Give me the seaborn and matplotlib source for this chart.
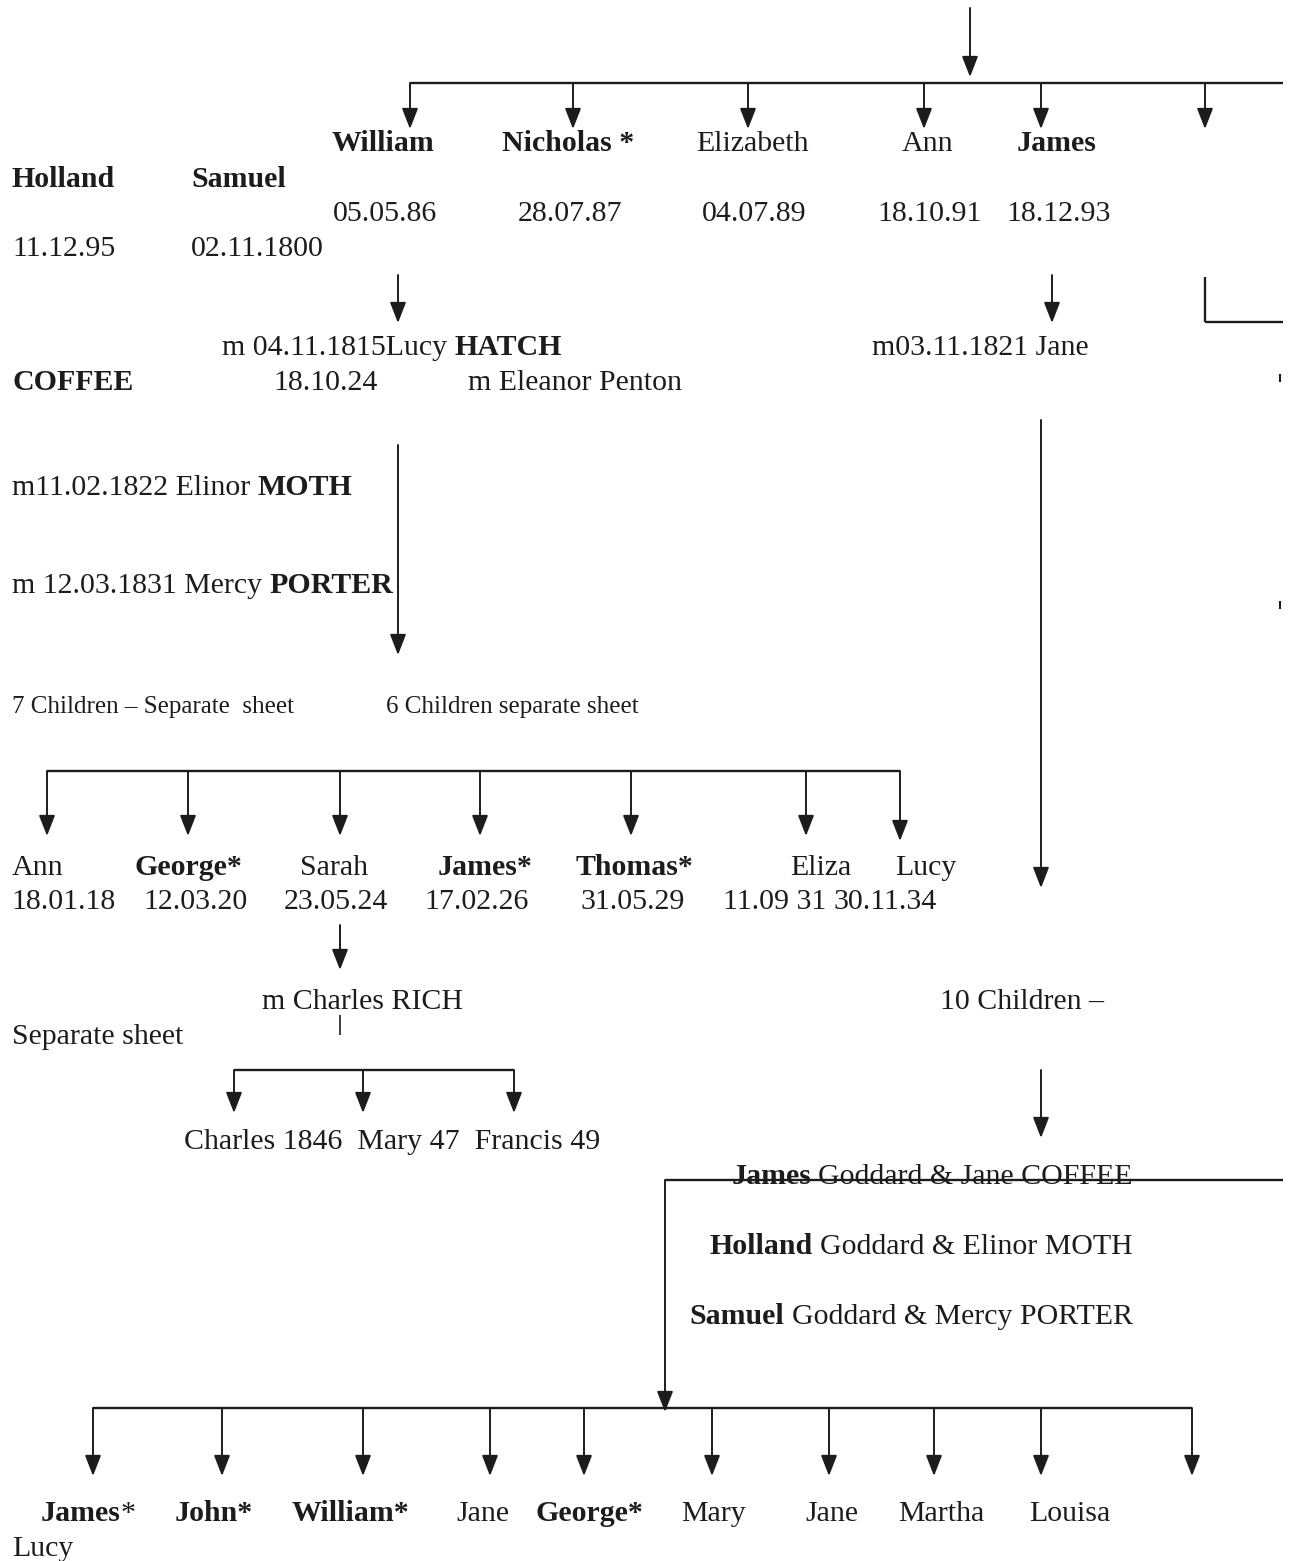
import matplotlib
matplotlib.use("Agg")
import matplotlib.pyplot as plt
import seaborn as sns

sns.set_theme(style="white")
plt.rcParams['font.family'] = ['Liberation Serif', 'DejaVu Serif']

W, H = 1290, 1561
INK = "#1c1c1c"
FS = 21.5      # main text size
FS_SMALL = 18  # "children on separate sheet" notes

# ---- family data ----
gen1_names = ["William", "Nicholas *", "Elizabeth", "Ann", "James"]
gen1_dates = ["05.05.86", "28.07.87", "04.07.89", "18.10.91", "18.12.93"]
gen1_bold = [True, True, False, False, True]
gen1_late_names = ["Holland", "Samuel"]
gen1_late_dates = ["11.12.95", "02.11.1800"]

hatch_children = ["Ann", "George*", "Sarah", "James*", "Thomas*", "Eliza", "Lucy"]
hatch_dates = ["18.01.18", "12.03.20", "23.05.24", "17.02.26", "31.05.29", "11.09 31", "30.11.34"]
hatch_bold = [False, True, False, True, True, False, False]

rich_children = ["Charles 1846", "Mary 47", "Francis 49"]

coffee_children = ["James", "John", "William", "Jane", "George", "Mary", "Jane", "Martha", "Louisa"]
coffee_star = [True, True, True, False, True, False, False, False, False]
coffee_last = "Lucy"

couples = [("James", "Goddard & Jane COFFEE"),
           ("Holland", "Goddard & Elinor MOTH"),
           ("Samuel", "Goddard & Mercy PORTER")]

# ---- layout (pixels) ----
gen1_x = [383, 568, 752, 928, 1057]
gen1_arrow_x = [410, 573, 748, 924, 1041, 1205]
hatch_x = [12, 188, 334, 485, 635, 821, 926]
hatch_date_x = [63, 196, 336, 477, 633, 775, 885]
hatch_arrow_x = [47, 188, 340, 480, 631, 806, 900]
rich_arrow_x = [234, 363, 514]
coffee_x = [88, 214, 351, 483, 589, 713, 832, 941, 1070]
coffee_arrow_x = [93, 222, 363, 490, 584, 712, 829, 934, 1041, 1192]

fig = plt.figure(figsize=(W / 100, H / 100), dpi=100)
ax = fig.add_axes([0, 0, 1, 1])
ax.set_xlim(0, W)
ax.set_ylim(H, 0)
ax.axis("off")
renderer = fig.canvas.get_renderer()


def hline(y, x0, x1, lw=1.7):
    ax.plot([x0, x1], [y, y], color=INK, lw=lw, solid_capstyle="butt")


def vline(x, y0, y1, lw=1.4):
    ax.plot([x, x], [y0, y1], color=INK, lw=lw, solid_capstyle="butt")


def arrow(x, y0, y1):
    ax.annotate("", xy=(x, y1), xytext=(x, y0),
                arrowprops=dict(arrowstyle="-|>,head_length=0.9,head_width=0.35",
                                lw=1.4, color=INK, shrinkA=0, shrinkB=0,
                                mutation_scale=14))


def rich(x, y, parts, ha="left", size=FS):
    sp = size * 100 / 72 * 0.25
    pieces, widths, lead = [], [], []
    for s, bold in parts:
        t = ax.text(0, y, s.strip(), fontsize=size, color=INK, va="baseline",
                    fontweight="bold" if bold else "normal")
        w = t.get_window_extent(renderer).width
        pre = sp if s.startswith(" ") else 0
        post = sp if s.endswith(" ") else 0
        pieces.append(t)
        lead.append(pre)
        widths.append(pre + w + post)
    total = sum(widths)
    start = {"left": x, "center": x - total / 2, "right": x - total}[ha]
    for t, w, p in zip(pieces, widths, lead):
        t.set_x(start + p)
        start += w


def label(x, y, s, bold=False, ha="center", size=FS):
    ax.text(x, y, s, fontsize=size, color=INK, va="baseline", ha=ha,
            fontweight="bold" if bold else "normal")


# ---- generation 1 ----
arrow(970, 8, 77)
hline(83, 410, 1283)
for x in gen1_arrow_x:
    arrow(x, 83, 129)
for x, n, b in zip(gen1_x, gen1_names, gen1_bold):
    label(x, 151, n, bold=b)
for x, d in zip(gen1_x, gen1_dates):
    label(x + 2, 221, d)
label(12, 187, gen1_late_names[0], bold=True, ha="left")
label(191, 187, gen1_late_names[1], bold=True, ha="left")
label(12, 256, gen1_late_dates[0], ha="left")
label(191, 256, gen1_late_dates[1], ha="left")

arrow(398, 275, 323)
arrow(1052, 275, 323)
vline(1205, 277, 322, lw=1.7)
hline(322, 1205, 1283)
vline(1280, 374, 382, lw=1.5)
vline(1280, 601, 609, lw=1.5)

rich(222, 355, [("m 04.11.1815Lucy ", False), ("HATCH", True)])
label(872, 355, "m03.11.1821 Jane", ha="left")
label(12, 390, "COFFEE", bold=True, ha="left")
label(273, 390, "18.10.24", ha="left")
label(468, 390, "m Eleanor Penton", ha="left")

rich(12, 495, [("m11.02.1822 Elinor ", False), ("MOTH", True)])
rich(12, 593, [("m 12.03.1831 Mercy ", False), ("PORTER", True)])
arrow(398, 445, 655)
arrow(1041, 420, 888)

label(12, 713, "7 Children \u2013 Separate  sheet", ha="left", size=FS_SMALL)
label(386, 713, "6 Children separate sheet", ha="left", size=FS_SMALL)

# ---- children of Holland & Lucy HATCH ----
hline(771, 47, 900)
for x in hatch_arrow_x:
    arrow(x, 771, 841 if x == hatch_arrow_x[-1] else 836)
for i, (x, n, b) in enumerate(zip(hatch_x, hatch_children, hatch_bold)):
    label(x, 875, n, bold=b, ha="left" if i == 0 else "center")
for x, d in zip(hatch_date_x, hatch_dates):
    label(x, 909, d)

arrow(340, 925, 970)
label(262, 1009, "m Charles RICH", ha="left")
label(940, 1009, "10 Children \u2013", ha="left")
label(12, 1044, "Separate sheet", ha="left")
vline(340, 1015, 1035, lw=1.2)

hline(1070, 234, 514)
for x in rich_arrow_x:
    arrow(x, 1070, 1113)
label(184, 1149, "  ".join(rich_children), ha="left")

# ---- James Goddard & Jane COFFEE ----
arrow(1041, 1070, 1138)
for i, (first, rest) in enumerate(couples):
    rich(1133, 1184 + i * 70, [(first + " ", True), (rest, False)], ha="right")
hline(1180, 665, 1283)
arrow(665, 1180, 1412)

hline(1408, 93, 1192)
for x in coffee_arrow_x:
    arrow(x, 1408, 1476)
for x, n, st in zip(coffee_x, coffee_children, coffee_star):
    if n == "James":
        rich(x, 1521, [(n, True), ("*", False)], ha="center")
    elif st:
        rich(x, 1521, [(n + "*", True)], ha="center")
    else:
        label(x, 1521, n)
label(12, 1556, coffee_last, ha="left")

fig.savefig("out.png", dpi=100, facecolor="white")
